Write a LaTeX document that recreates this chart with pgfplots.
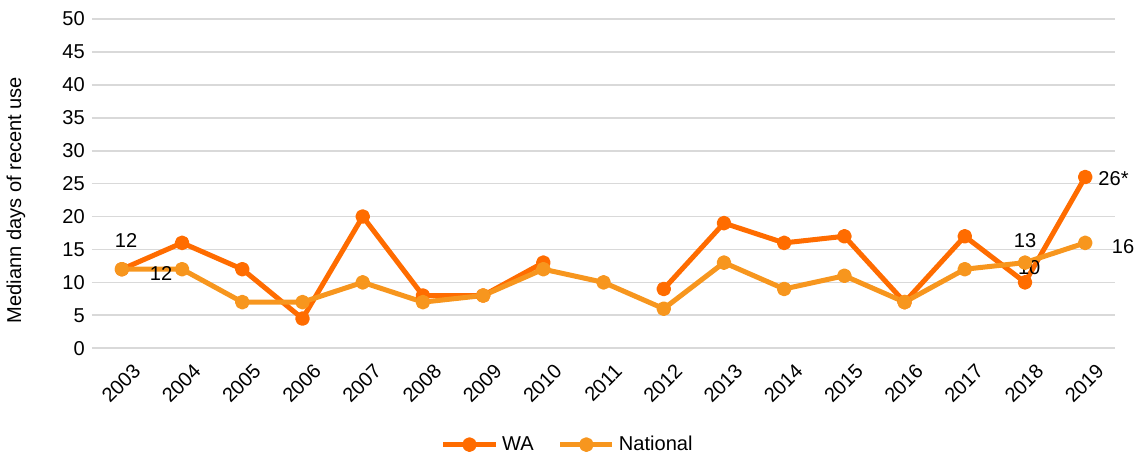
\documentclass[border=0pt]{standalone}
\usepackage{fontspec}
\setmainfont{Liberation Sans}
\usepackage{pgfplots}
\pgfplotsset{compat=1.18}
\definecolor{wa}{RGB}{255,108,0}
\definecolor{nat}{RGB}{247,150,30}
\definecolor{gridc}{RGB}{217,217,217}

\begin{document}
\begin{tikzpicture}
\begin{axis}[
    scale only axis,
    width=510pt, height=164pt,
    xmin=2002.5, xmax=2019.5,
    ymin=0, ymax=50,
    xtick={2003,...,2019},
    ytick={0,5,...,50},
    font=\fontsize{10}{12}\selectfont,
    /pgf/number format/assume math mode=true,
    /pgf/number format/set thousands separator={},
    x tick label style={rotate=45, anchor=north east, xshift=2pt, yshift=-5pt},
    major tick length=0pt,
    axis line style={draw=none},
    ymajorgrids,
    grid style={gridc, line width=0.8pt},
    ylabel={Mediann days of recent use},
    ylabel style={at={(axis description cs:-0.074,0.45)}, anchor=center, rotate=0},
    clip=false,
    unbounded coords=jump,
    legend columns=2,
    legend style={at={(0.466,-0.293)}, anchor=center, draw=none, inner sep=0pt,
        font=\fontsize{10}{12}\selectfont,
        /tikz/every even column/.append style={column sep=10pt}},
    legend image code/.code={\draw[mark repeat=2,mark phase=2,#1] plot coordinates {(0pt,0pt) (13pt,0pt) (26pt,0pt)};},
]
\addplot[wa, line width=2.5pt, line join=round, mark=*, mark size=2.4pt] coordinates {
    (2003,12) (2004,16) (2005,12) (2006,4.5) (2007,20) (2008,8) (2009,8)
    (2010,13) (2011,nan) (2012,9) (2013,19) (2014,16) (2015,17) (2016,7)
    (2017,17) (2018,10) (2019,26)
};
\addlegendentry{WA}
\addplot[nat, line width=2.5pt, line join=round, mark=*, mark size=2.4pt] coordinates {
    (2003,12) (2004,12) (2005,7) (2006,7) (2007,10) (2008,7) (2009,8)
    (2010,12) (2011,10) (2012,6) (2013,13) (2014,9) (2015,11) (2016,7)
    (2017,12) (2018,13) (2019,16)
};
\addlegendentry{National}
\node at (axis cs:2003.07,16.3) {12};
\node at (axis cs:2003.65,11.4) {12};
\node at (axis cs:2018.0,16.3) {13};
\node at (axis cs:2018.07,12.2) {10};
\node at (axis cs:2019.47,25.8) {26*};
\node at (axis cs:2019.63,15.5) {16};
\path (rel axis cs:0,1) ++(0pt,9.5pt) coordinate (topgap);
\end{axis}
\end{tikzpicture}
\end{document}
